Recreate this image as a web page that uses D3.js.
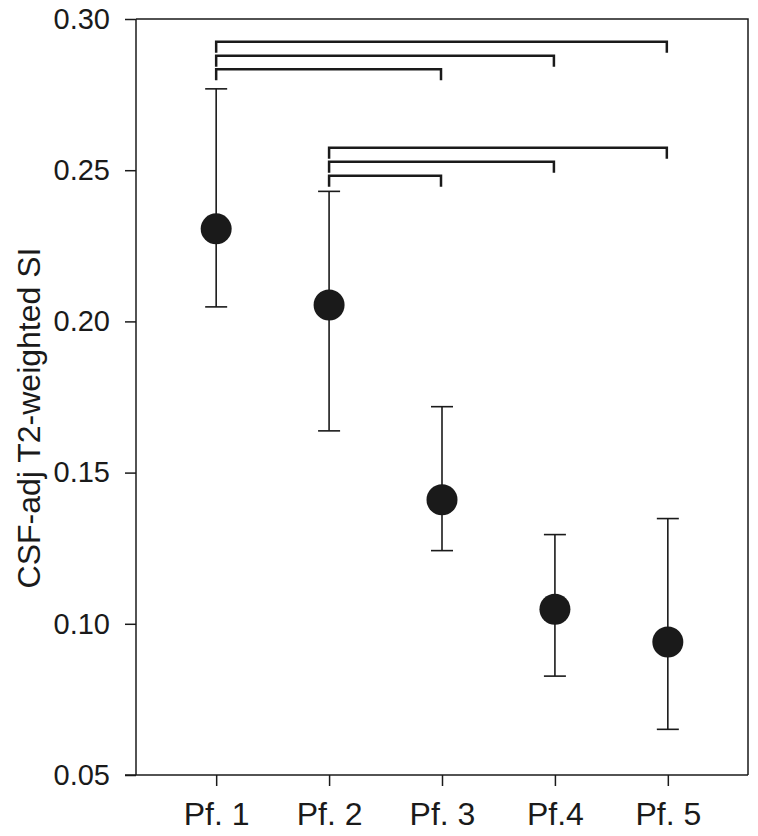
<!DOCTYPE html>
<html>
<head>
<meta charset="utf-8">
<script src="https://cdn.jsdelivr.net/npm/d3@7"></script>
<style>
  body { margin: 0; background: #fff; }
  text { font-family: "Liberation Sans", Arial, sans-serif; fill: #1a1a1a; }
</style>
</head>
<body>
<script>
// Data
const categories = ['Pf. 1', 'Pf. 2', 'Pf. 3', 'Pf.4', 'Pf. 5']
const means      = [0.2306, 0.2054, 0.1410, 0.1048, 0.0940]
const upper      = [0.2769, 0.2430, 0.1718, 0.1295, 0.1348]
const lower      = [0.2048, 0.1638, 0.1242, 0.0827, 0.0651]
const yTicks     = [0.05, 0.10, 0.15, 0.20, 0.25, 0.30]
// significance brackets: [from, to]
const brackets   = [
  [0, 4], [0, 3], [0, 2],
  [1, 4], [1, 3], [1, 2]
]

// Layout
var width   = 758
var height  = 836
var margin  = {top: 19, right: 10, bottom: 61, left: 136}
var ink     = '#1a1a1a'

let svg = d3.select('body')
            .append('svg')
            .attr('width', width)
            .attr('height', height)

// Scales
var x = d3.scalePoint()
          .domain(categories)
          .range([margin.left, width - margin.right])
          .padding(0.71)
var y = d3.scaleLinear()
          .domain([0.05, 0.30])
          .range([height - margin.bottom, margin.top])

// Frame (top and right)
svg.append('path')
   .attr('d', `M${margin.left},${margin.top}H${width - margin.right}V${height - margin.bottom}`)
   .attr('fill', 'none')
   .attr('stroke', ink)
   .attr('stroke-width', 1.5)

// Axes
let yAxis = svg.append('g')
               .attr('transform', `translate(${margin.left},0)`)
               .call(d3.axisLeft(y).tickValues(yTicks).tickFormat(d3.format('.2f')).tickSize(11).tickPadding(15))
let xAxis = svg.append('g')
               .attr('transform', `translate(0,${height - margin.bottom})`)
               .call(d3.axisBottom(x).tickSize(11).tickPadding(16).tickSizeOuter(0))
yAxis.select('.domain').attr('d', `M0,${margin.top}V${height - margin.bottom}`)
xAxis.select('.domain').attr('d', `M${margin.left - 11},0H${width - margin.right}`)
svg.selectAll('.domain, .tick line').attr('stroke', ink).attr('stroke-width', 1.5)
yAxis.selectAll('.tick text').attr('font-size', 29).attr('fill', ink)
xAxis.selectAll('.tick text').attr('font-size', 32).attr('fill', ink)

// Axis title
svg.append('text')
   .attr('transform', `translate(40,${(margin.top + height - margin.bottom) / 2 + 21}) rotate(-90)`)
   .attr('text-anchor', 'middle')
   .attr('font-size', 32)
   .text('CSF-adj T2-weighted SI')

// Error bars
let bars = svg.append('g')
              .selectAll('g')
              .data(categories)
              .enter()
              .append('g')
bars.append('line')
    .attr('x1', d => x(d)).attr('x2', d => x(d))
    .attr('y1', (d, i) => y(upper[i])).attr('y2', (d, i) => y(lower[i]))
    .attr('stroke', ink).attr('stroke-width', 1.6)
bars.selectAll('.cap')
    .data((d, i) => [upper[i], lower[i]].map(v => ({c: d, v: v})))
    .enter()
    .append('line')
    .attr('class', 'cap')
    .attr('x1', d => x(d.c) - 11).attr('x2', d => x(d.c) + 11)
    .attr('y1', d => y(d.v)).attr('y2', d => y(d.v))
    .attr('stroke', ink).attr('stroke-width', 1.6)
bars.append('circle')
    .attr('cx', d => x(d))
    .attr('cy', (d, i) => y(means[i]))
    .attr('r', 15.5)
    .attr('fill', ink)

// Brackets
var bracketY  = [41.7, 55.7, 69.3, 147.7, 161.7, 175.7]
var bracketDrop = 11
svg.append('g')
   .selectAll('path')
   .data(brackets)
   .enter()
   .append('path')
   .attr('d', (d, i) => {
       let x0 = x(categories[d[0]]), x1 = x(categories[d[1]]) - 1
       let yy = bracketY[i]
       return `M${x0},${yy + bracketDrop}V${yy}H${x1}V${yy + bracketDrop}`
   })
   .attr('fill', 'none')
   .attr('stroke', ink)
   .attr('stroke-width', 2.5)
</script>
</body>
</html>
